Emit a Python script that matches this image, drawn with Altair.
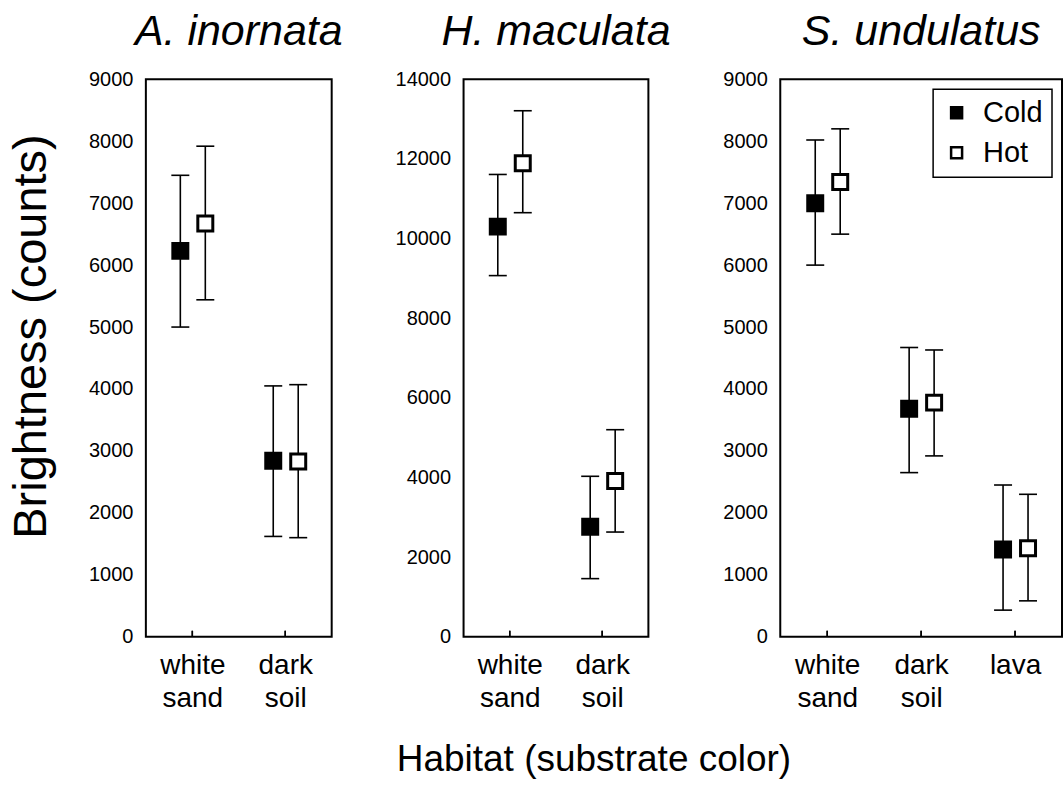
import altair as alt
import pandas as pd

FONT = "Liberation Sans, Arial, sans-serif"

species = ["A. inornata"] * 4 + ["H. maculata"] * 4 + ["S. undulatus"] * 6
habitat = ["white sand", "white sand", "dark soil", "dark soil",
           "white sand", "white sand", "dark soil", "dark soil",
           "white sand", "white sand", "dark soil", "dark soil", "lava", "lava"]
temperature = ["Cold", "Hot"] * 7
mean_val = [6230, 6670, 2840, 2830,
            10300, 11890, 2760, 3910,
            7000, 7340, 3680, 3780, 1410, 1430]
low_val = [5000, 5440, 1620, 1600,
           9070, 10650, 1460, 2630,
           6000, 6500, 2650, 2920, 430, 580]
high_val = [7450, 7920, 4050, 4070,
            11610, 13210, 4030, 5200,
            8020, 8200, 4670, 4630, 2450, 2300]

habitat_order = ["white sand", "dark soil", "lava"]
temp_order = ["Cold", "Hot"]
temp_fill = ["black", "white"]

df = pd.DataFrame({
    "species": species, "habitat": habitat, "temp": temperature,
    "mean": mean_val, "lo": low_val, "hi": high_val,
})


def panel(sp, width, ymax, ystep, ytitle, show_legend):
    d = df[df["species"] == sp]
    habs = [h for h in habitat_order if h in set(d["habitat"])]
    x = alt.X("habitat:N", sort=habs,
              scale=alt.Scale(type="point", padding=0.5, domain=habs),
              axis=alt.Axis(title=None, labelAngle=0, ticks=False, domain=False,
                            labelExpr="split(datum.label, ' ')",
                            labelFont=FONT, labelFontSize=28, labelColor="black",
                            labelLineHeight=33, labelPadding=15, labelBaseline="top"))
    xo = alt.XOffset("temp:N", scale=alt.Scale(type="point", padding=0,
                                               domain=temp_order, range=[-12, 13]))
    yscale = alt.Scale(domain=[0, ymax], nice=False, zero=True)
    yaxis_kw = dict(values=list(range(0, ymax + 1, ystep)), format="d", grid=False,
                    ticks=False, domain=False, labelFont=FONT, labelFontSize=20,
                    labelColor="black", labelPadding=13, minExtent=70, maxExtent=70)
    if ytitle:
        yaxis = alt.Axis(title=ytitle, titleFont=FONT, titleFontSize=47,
                         titleFontWeight="normal", titleColor="black",
                         titleBaseline="alphabetic", titlePadding=30, titleY=257,
                         **yaxis_kw)
    else:
        yaxis = alt.Axis(title=None, **yaxis_kw)

    base = alt.Chart(d)
    rules = base.mark_rule(color="black", strokeWidth=1.6).encode(
        x=x, xOffset=xo, y=alt.Y("lo:Q", scale=yscale, axis=yaxis), y2="hi:Q")
    cap_lo = base.mark_tick(color="black", thickness=1.6, size=18, opacity=1).encode(
        x=x, xOffset=xo, y=alt.Y("lo:Q", scale=yscale))
    cap_hi = base.mark_tick(color="black", thickness=1.6, size=18, opacity=1).encode(
        x=x, xOffset=xo, y=alt.Y("hi:Q", scale=yscale))
    if show_legend:
        leg = alt.Legend(title=None, orient="top-right", offset=10,
                         strokeColor="black", fillColor="white",
                         padding=9, symbolType="square", symbolSize=121,
                         symbolStrokeColor="black", symbolStrokeWidth=2.5,
                         symbolOpacity=1,
                         labelFont=FONT, labelFontSize=29, labelColor="black",
                         labelOffset=12, rowPadding=10, labelLimit=200)
    else:
        leg = None
    fill = alt.Fill("temp:N", scale=alt.Scale(domain=temp_order, range=temp_fill),
                    legend=leg)
    pts = base.mark_point(shape="square", filled=True, stroke="black", strokeWidth=3,
                          size=225, opacity=1).encode(
        x=x, xOffset=xo, y=alt.Y("mean:Q", scale=yscale), fill=fill)
    inner_ticks = base.mark_tick(orient="vertical", color="black", thickness=1.5,
                                 size=6, opacity=1).encode(
        x=x, y=alt.datum(0, scale=yscale), yOffset=alt.value(-3))
    return alt.layer(rules, cap_lo, cap_hi, inner_ticks, pts).properties(
        width=width, height=558,
        title=alt.TitleParams(sp, font=FONT, fontSize=43, fontStyle="italic",
                              fontWeight="normal", color="black", anchor="middle",
                              frame="group", offset=15))


p1 = panel("A. inornata", 186, 9000, 1000, "Brightness (counts)", False)
p2 = panel("H. maculata", 185, 14000, 2000, None, False)
p3 = panel("S. undulatus", 282, 9000, 1000, None, True)

chart = alt.hconcat(p1, p2, p3, spacing=132, bounds="flush").resolve_scale(
    fill="independent").resolve_legend(fill="independent").properties(
    title=alt.TitleParams("Habitat (substrate color)", orient="bottom", anchor="middle",
                          font=FONT, fontSize=37, fontWeight="normal", color="black",
                          offset=28, dx=59),
    padding={"left": 7, "top": 10, "right": 0, "bottom": 2},
).configure_view(stroke="black", strokeWidth=2).configure_legend(strokeWidth=1.5)

chart.save("out.html", embed_options={"renderer": "svg", "actions": False})
